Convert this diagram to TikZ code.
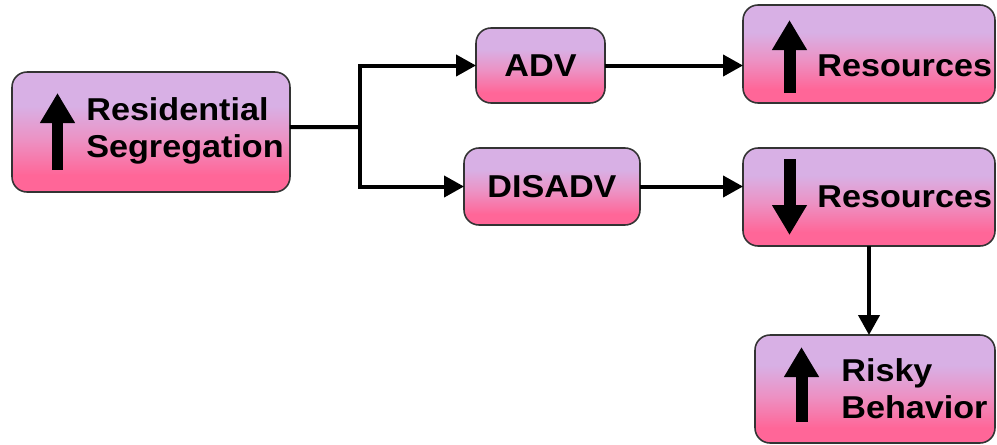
\documentclass[tikz,border=0pt]{standalone}
\usepackage{fontspec}
\newfontfamily\boxfont[FakeStretch=1.08]{Liberation Sans}
\usetikzlibrary{arrows.meta,calc}
\definecolor{lav}{RGB}{216,176,229}
\definecolor{pkm}{RGB}{236,146,196}
\definecolor{pkb}{RGB}{255,102,152}
\pgfdeclareverticalshading{boxfill}{100bp}{color(0bp)=(pkb); color(32bp)=(pkb); color(47bp)=(pkm); color(61bp)=(lav); color(75bp)=(lav); color(100bp)=(lav)}
\tikzset{
  box/.style={draw=black!80, line width=0.9pt, rounded corners=0.3cm, shade, shading=boxfill, inner sep=0pt, outer sep=0pt},
  lbl/.style={font=\boxfont\bfseries\fontsize{18}{20.8}\selectfont, inner sep=0pt, align=left},
  conn/.style={line width=0.08cm},
  bigarrow/.style={line width=0.24cm, -{Triangle[width=0.66cm,length=0.6cm]}}
}
\begin{document}
\begin{tikzpicture}[x=0.02cm,y=-0.02cm]
\useasboundingbox (0,0) rectangle (997,444);

\node[box, minimum width=5.56cm, minimum height=2.4cm] (seg) at (151,132) {};
\node[box, lbl, minimum width=2.58cm, minimum height=1.5cm] (adv) at (540.5,65.5) {ADV};
\node[box, lbl, minimum width=3.52cm, minimum height=1.54cm] (dis) at (552,186.5) {DISADV};
\node[box, minimum width=5.04cm, minimum height=1.96cm] (resup) at (869,54) {};
\node[box, minimum width=5.04cm, minimum height=1.96cm] (resdn) at (869,197) {};
\node[box, minimum width=4.8cm, minimum height=2.16cm] (risky) at (875,389) {};

\node[lbl, anchor=base west] (segtxt) at (86,157) {Residential\\Segregation};
\node[lbl, anchor=base west] (resuptxt) at (817,76) {Resources};
\node[lbl, anchor=base west] (resdntxt) at (817,207) {Resources};
\node[lbl, anchor=base west] (riskytxt) at (841,418) {Risky\\Behavior};

\foreach \x/\a/\b in {57.5/170/93, 789.5/93/20, 789.5/159/235, 801.5/422/347}
\draw[bigarrow] (\x,\a) -- (\x,\b);

\coordinate (fork) at (360,127);
\draw[conn] ([yshift=0.1cm]seg.east) -- (fork);
\draw[conn,-{Triangle[width=0.42cm,length=0.4cm]}] (fork) |- (adv.west);
\draw[conn,-{Triangle[width=0.42cm,length=0.4cm]}] (fork) |- (dis.west);
\draw[conn,-{Triangle[width=0.42cm,length=0.4cm]}] (adv.east) -- (adv.east -| resup.west);
\draw[conn,-{Triangle[width=0.42cm,length=0.4cm]}] (dis.east) -- (dis.east -| resdn.west);
\draw[conn,-{Triangle[width=0.42cm,length=0.4cm]}] (resdn.south) -- (resdn.south |- risky.north);
\end{tikzpicture}
\end{document}
